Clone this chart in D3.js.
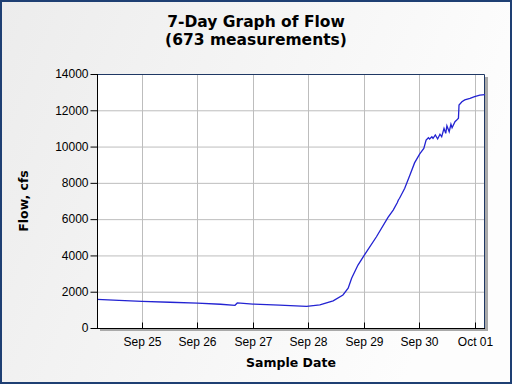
<!DOCTYPE html>
<html>
<head>
<meta charset="utf-8">
<script src="https://cdn.jsdelivr.net/npm/d3@7"></script>
<style>
  html, body { margin: 0; padding: 0; background: #ffffff; }
  #viz_container { width: 512px; height: 384px; }
</style>
</head>
<body>
<div id="viz_container"></div>
<script>
// Sample times and flow values (cfs)
const sampleTimes = [
  "2023-09-24T04:30", "2023-09-24T14:00", "2023-09-25T00:00", "2023-09-25T12:00",
  "2023-09-26T00:00", "2023-09-26T10:00", "2023-09-26T16:15", "2023-09-26T17:15",
  "2023-09-27T00:00", "2023-09-27T11:30", "2023-09-27T23:15", "2023-09-28T05:00",
  "2023-09-28T10:45", "2023-09-28T15:00", "2023-09-28T17:15", "2023-09-28T18:45",
  "2023-09-28T21:30", "2023-09-29T00:15", "2023-09-29T05:30", "2023-09-29T10:30",
  "2023-09-29T12:45", "2023-09-29T14:30", "2023-09-29T15:00", "2023-09-29T15:30",
  "2023-09-29T17:45", "2023-09-29T20:00", "2023-09-29T22:00", "2023-09-30T00:15",
  "2023-09-30T02:00", "2023-09-30T03:00", "2023-09-30T04:00", "2023-09-30T04:30",
  "2023-09-30T05:30", "2023-09-30T06:00", "2023-09-30T07:00", "2023-09-30T08:00",
  "2023-09-30T09:00", "2023-09-30T09:45", "2023-09-30T10:45", "2023-09-30T11:30",
  "2023-09-30T12:00", "2023-09-30T13:00", "2023-09-30T13:45", "2023-09-30T14:15",
  "2023-09-30T15:30", "2023-09-30T16:15", "2023-09-30T17:00", "2023-09-30T17:15",
  "2023-09-30T18:30", "2023-09-30T19:45", "2023-09-30T22:00", "2023-10-01T00:00",
  "2023-10-01T02:15", "2023-10-01T04:30"
];
const flowValues = [
  1580, 1520, 1470, 1420,
  1370, 1310, 1250, 1380,
  1320, 1260, 1190, 1270,
  1500, 1820, 2190, 2740,
  3470, 4020, 5030, 6100,
  6500, 6900, 7055, 7150,
  7700, 8430, 9100, 9600,
  9900, 10360, 10490, 10420,
  10540, 10450, 10640, 10420,
  10680, 10540, 11000, 10730,
  11150, 10820, 11230, 11040,
  11370, 11460, 11560, 12290,
  12470, 12570, 12660, 12750,
  12840, 12860
];
const yTicks = [0, 2000, 4000, 6000, 8000, 10000, 12000, 14000];
const xTickDates = ["2023-09-25", "2023-09-26", "2023-09-27", "2023-09-28", "2023-09-29", "2023-09-30", "2023-10-01"];
const titleLines = ["7-Day Graph of Flow", "(673 measurements)"];

const width = 512;
const height = 384;
const margin = { top: 74, right: 27, bottom: 56, left: 97 };

const parseTime = d3.timeParse("%Y-%m-%dT%H:%M");
const parseDay = d3.timeParse("%Y-%m-%d");
const data = sampleTimes.map((t, i) => ({ date: parseTime(t), flow: flowValues[i] }));

const svg = d3
  .select("#viz_container")
  .append("svg")
  .attr("width", width)
  .attr("height", height)
  .attr("viewBox", `0 0 ${width} ${height}`);

const defs = svg.append("defs");
const bg = defs.append("linearGradient").attr("id", "bg").attr("x1", "0").attr("y1", "0").attr("x2", "1").attr("y2", "0.3");
bg.append("stop").attr("offset", "0%").attr("stop-color", "#ececec");
bg.append("stop").attr("offset", "100%").attr("stop-color", "#fdfdfd");

// background + frame
svg.append("rect")
  .attr("x", 1).attr("y", 1)
  .attr("width", width - 2).attr("height", height - 2)
  .attr("fill", "url(#bg)")
  .attr("stroke", "#1e3f73")
  .attr("stroke-width", 2);

const x = d3.scaleTime()
  .domain([parseTime("2023-09-24T04:30"), parseTime("2023-10-01T04:30")])
  .range([margin.left, width - margin.right]);

const y = d3.scaleLinear()
  .domain([0, 14000])
  .range([height - margin.bottom, margin.top]);

const pw = width - margin.left - margin.right;
const ph = height - margin.top - margin.bottom;

// plot shadow
svg.append("rect")
  .attr("x", margin.left + 3).attr("y", margin.top + 3)
  .attr("width", pw).attr("height", ph)
  .attr("fill", "#a9a9a9");

// plot area
svg.append("rect")
  .attr("x", margin.left).attr("y", margin.top)
  .attr("width", pw).attr("height", ph)
  .attr("fill", "#ffffff");

// gridlines
const grid = svg.append("g");
grid.selectAll("line.h")
  .data(yTicks.slice(1, -1))
  .enter()
  .append("line")
  .attr("x1", margin.left).attr("x2", width - margin.right)
  .attr("y1", (d) => y(d) + 0.5).attr("y2", (d) => y(d) + 0.5)
  .attr("stroke", "#bdbdbd");
grid.selectAll("line.v")
  .data(xTickDates.map(parseDay))
  .enter()
  .append("line")
  .attr("x1", (d) => Math.round(x(d)) + 0.5).attr("x2", (d) => Math.round(x(d)) + 0.5)
  .attr("y1", margin.top).attr("y2", height - margin.bottom)
  .attr("stroke", "#bdbdbd");

// top and right border
svg.append("path")
  .attr("d", `M${margin.left},${margin.top + 0.5}H${width - margin.right - 0.5}V${height - margin.bottom}`)
  .attr("fill", "none")
  .attr("stroke", "#1f3864");

// flow line
svg.append("path")
  .datum(data)
  .attr("fill", "none")
  .attr("stroke", "#2323d2")
  .attr("stroke-width", 1.3)
  .attr("d", d3.line().x((d) => x(d.date)).y((d) => y(d.flow)));

// axes
const yAxis = svg.append("g")
  .attr("transform", `translate(${margin.left + 0.5},0)`)
  .call(d3.axisLeft(y).tickValues(yTicks).tickSize(7).tickPadding(2).tickFormat(d3.format("d")));
yAxis.selectAll("text").attr("font-family", "Liberation Sans, Arial, sans-serif").attr("font-size", 12).attr("fill", "#000");

const xAxis = svg.append("g")
  .attr("transform", `translate(0,${height - margin.bottom + 0.5})`)
  .call(d3.axisBottom(x).tickValues(xTickDates.map(parseDay)).tickSize(-6).tickPadding(9).tickFormat(d3.timeFormat("%b %d")));
xAxis.selectAll("text").attr("font-family", "Liberation Sans, Arial, sans-serif").attr("font-size", 12).attr("fill", "#000");
xAxis.selectAll(".tick").attr("transform", (d) => `translate(${Math.round(x(d)) + 0.5},0)`);
xAxis.select(".domain").attr("d", `M${margin.left},0H${width - margin.right}`);
yAxis.select(".domain").attr("d", `M0,${margin.top}V${height - margin.bottom}`);

// titles
svg.append("text")
  .attr("x", 256).attr("y", 27)
  .attr("text-anchor", "middle")
  .attr("font-family", "DejaVu Sans, Verdana, sans-serif")
  .attr("font-weight", "bold").attr("font-size", 15.5)
  .selectAll("tspan")
  .data(titleLines)
  .enter()
  .append("tspan")
  .attr("x", 256)
  .attr("dy", (d, i) => (i === 0 ? 0 : 18))
  .text((d) => d);

svg.append("text")
  .attr("x", (margin.left + width - margin.right) / 2).attr("y", 367)
  .attr("text-anchor", "middle")
  .attr("font-family", "DejaVu Sans, Verdana, sans-serif")
  .attr("font-weight", "bold").attr("font-size", 12.5)
  .text("Sample Date");

svg.append("text")
  .attr("transform", `translate(28,${margin.top + ph / 2}) rotate(-90)`)
  .attr("text-anchor", "middle")
  .attr("font-family", "DejaVu Sans, Verdana, sans-serif")
  .attr("font-weight", "bold").attr("font-size", 12.5)
  .text("Flow, cfs");
</script>
</body>
</html>
